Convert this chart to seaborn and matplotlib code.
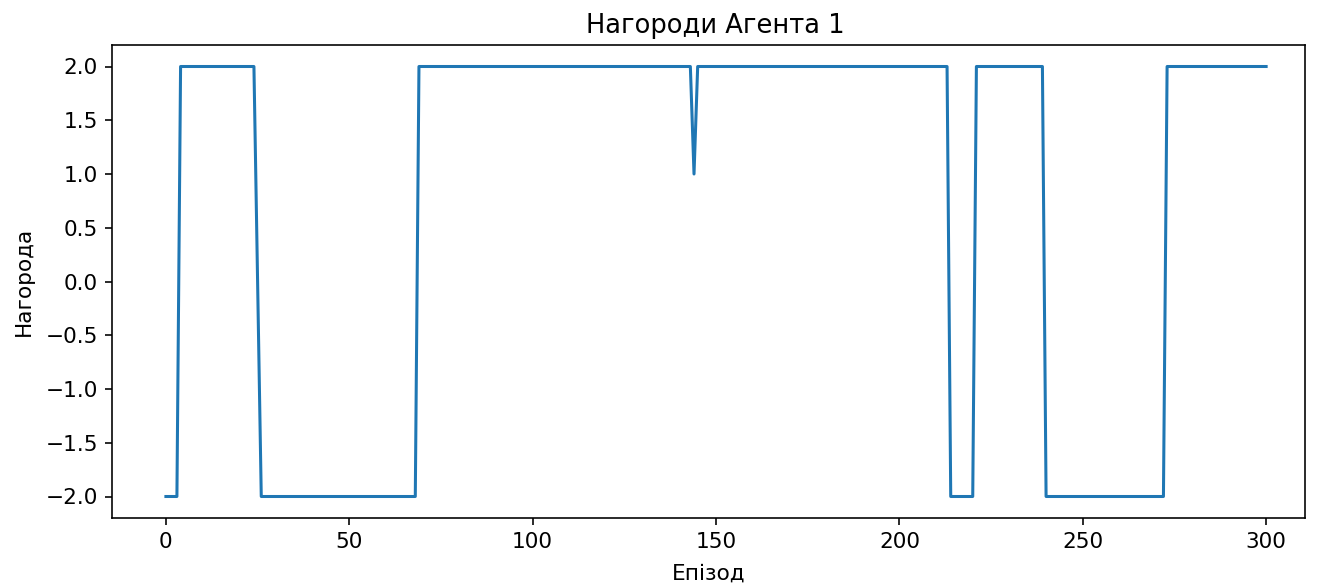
import numpy as np
import matplotlib
matplotlib.use("Agg")
import matplotlib.pyplot as plt
import seaborn as sns

# Reward per episode, stored as runs of constant value
run_values = [-2, 2, 0, -2, 2, 1, 2, -2, 2, -2, 2]
run_lengths = [4, 21, 1, 43, 75, 1, 69, 7, 19, 33, 28]

title = "Нагороди Агента 1"
x_label = "Епізод"
y_label = "Нагорода"

rewards = np.repeat(run_values, run_lengths)
episodes = np.arange(len(rewards))

plt.rcParams["font.size"] = 10.7
plt.rcParams["axes.labelpad"] = 5.5

dpi = 146
fig = plt.figure(figsize=(1317 / dpi, 585 / dpi), dpi=dpi)
ax = fig.add_axes([112 / 1317, 1 - 518 / 585, (1305 - 112) / 1317, (518 - 45) / 585])

sns.lineplot(x=episodes, y=rewards, ax=ax, color="#1f77b4", linewidth=1.5)

ax.set_xlim(-14.7, 310.6)
ax.set_title(title, fontsize=12.7, x=0.5055)
ax.set_xlabel(x_label)
ax.set_ylabel(y_label)

fig.savefig("out.png", dpi=dpi)
